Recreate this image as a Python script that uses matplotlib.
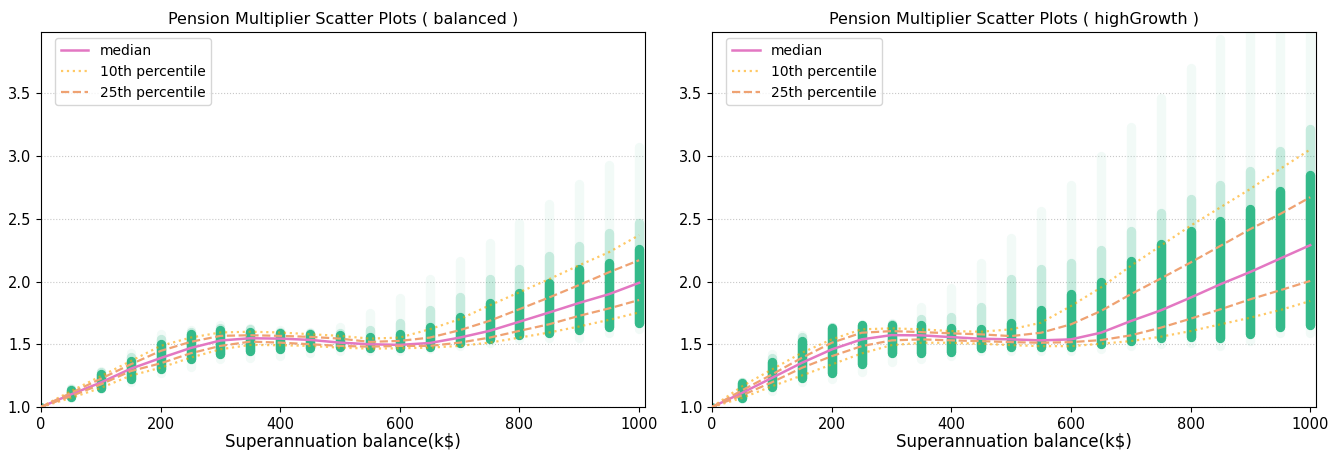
import matplotlib
matplotlib.use("Agg")

import numpy as np
import matplotlib.pyplot as plt

plt.rcParams.update({
    "font.family": "DejaVu Sans",
    "font.size": 10,
    "xtick.labelsize": 10.5,
    "ytick.labelsize": 10.5,
})

balance = [0, 50, 100, 150, 200, 250, 300, 350, 400, 450, 500,
           550, 600, 650, 700, 750, 800, 850, 900, 950, 1000]

# quantile curves, per strategy
balanced = {
    "p50": [1.00, 1.10, 1.195, 1.305, 1.39, 1.47, 1.53, 1.548, 1.545, 1.535, 1.513,
            1.50, 1.495, 1.51, 1.553, 1.607, 1.68, 1.754, 1.83, 1.90, 1.99],
    "p10": [1.00, 1.072, 1.152, 1.25, 1.313, 1.393, 1.46, 1.495, 1.492, 1.487, 1.473,
            1.465, 1.468, 1.473, 1.487, 1.513, 1.553, 1.594, 1.642, 1.695, 1.754],
    "p25": [1.00, 1.086, 1.18, 1.286, 1.348, 1.428, 1.487, 1.521, 1.513, 1.50, 1.487,
            1.481, 1.487, 1.487, 1.513, 1.553, 1.607, 1.66, 1.727, 1.786, 1.853],
    "p75": [1.00, 1.112, 1.225, 1.34, 1.447, 1.519, 1.567, 1.572, 1.567, 1.559, 1.545,
            1.519, 1.527, 1.553, 1.612, 1.687, 1.78, 1.874, 1.973, 2.075, 2.17],
    "p90": [1.00, 1.126, 1.246, 1.366, 1.487, 1.553, 1.594, 1.60, 1.594, 1.58, 1.567,
            1.545, 1.553, 1.62, 1.70, 1.81, 1.915, 2.02, 2.13, 2.235, 2.37],
}
high_growth = {
    "p50": [1.00, 1.112, 1.232, 1.352, 1.459, 1.539, 1.573, 1.571, 1.557, 1.544, 1.539,
            1.531, 1.539, 1.592, 1.685, 1.77, 1.872, 1.979, 2.077, 2.184, 2.29],
    "p10": [1.00, 1.072, 1.165, 1.251, 1.339, 1.427, 1.493, 1.512, 1.512, 1.504, 1.493,
            1.485, 1.485, 1.504, 1.525, 1.56, 1.605, 1.659, 1.712, 1.773, 1.845],
    "p25": [1.00, 1.093, 1.197, 1.312, 1.405, 1.485, 1.531, 1.539, 1.531, 1.525, 1.517,
            1.512, 1.517, 1.533, 1.571, 1.632, 1.704, 1.779, 1.859, 1.931, 2.005],
    "p75": [1.00, 1.133, 1.259, 1.392, 1.512, 1.592, 1.605, 1.597, 1.587, 1.579, 1.565,
            1.592, 1.659, 1.765, 1.899, 2.024, 2.152, 2.285, 2.419, 2.539, 2.672],
    "p90": [1.00, 1.165, 1.299, 1.432, 1.539, 1.619, 1.627, 1.619, 1.605, 1.60, 1.619,
            1.672, 1.805, 1.952, 2.125, 2.285, 2.445, 2.592, 2.739, 2.899, 3.053],
}

# spread of the simulated points in each column: faint bottom, dense bottom,
# dense top, medium top, faint top
balanced_cols = {
    "lo":      [1.00, 1.07, 1.14, 1.20, 1.27, 1.32, 1.38, 1.39, 1.41, 1.43, 1.45,
                1.45, 1.45, 1.46, 1.49, 1.51, 1.54, 1.55, 1.55, 1.59, 1.62],
    "core_lo": [1.00, 1.08, 1.15, 1.22, 1.30, 1.38, 1.42, 1.45, 1.46, 1.47, 1.48,
                1.47, 1.47, 1.48, 1.51, 1.54, 1.57, 1.59, 1.61, 1.64, 1.67],
    "core_hi": [1.00, 1.135, 1.26, 1.37, 1.50, 1.58, 1.61, 1.60, 1.59, 1.58, 1.57,
                1.56, 1.58, 1.64, 1.72, 1.83, 1.91, 1.99, 2.10, 2.15, 2.26],
    "mid_hi":  [1.00, 1.14, 1.28, 1.40, 1.54, 1.60, 1.63, 1.62, 1.60, 1.59, 1.59,
                1.61, 1.67, 1.77, 1.88, 2.02, 2.10, 2.20, 2.28, 2.39, 2.47],
    "hi":      [1.00, 1.15, 1.29, 1.43, 1.58, 1.61, 1.65, 1.63, 1.61, 1.60, 1.64,
                1.75, 1.87, 2.02, 2.16, 2.31, 2.47, 2.62, 2.78, 2.93, 3.07],
}
high_growth_cols = {
    "lo":      [1.00, 1.06, 1.13, 1.20, 1.22, 1.28, 1.36, 1.38, 1.41, 1.45, 1.45,
                1.45, 1.45, 1.46, 1.49, 1.50, 1.51, 1.49, 1.53, 1.59, 1.59],
    "core_lo": [1.00, 1.07, 1.16, 1.23, 1.27, 1.34, 1.43, 1.43, 1.44, 1.47, 1.48,
                1.48, 1.48, 1.50, 1.53, 1.55, 1.56, 1.55, 1.58, 1.64, 1.65],
    "core_hi": [1.00, 1.19, 1.36, 1.53, 1.63, 1.65, 1.65, 1.65, 1.63, 1.62, 1.67,
                1.77, 1.90, 2.00, 2.16, 2.30, 2.40, 2.48, 2.58, 2.72, 2.85],
    "mid_hi":  [1.00, 1.20, 1.39, 1.56, 1.64, 1.65, 1.66, 1.70, 1.72, 1.80, 2.02,
                2.10, 2.15, 2.25, 2.40, 2.55, 2.66, 2.77, 2.88, 3.04, 3.22],
    "hi":      [1.00, 1.20, 1.42, 1.57, 1.64, 1.66, 1.67, 1.80, 1.95, 2.15, 2.35,
                2.56, 2.77, 3.00, 3.23, 3.46, 3.70, 3.93, 4.10, 4.20, 4.30],
}

panels = [("balanced", balanced, balanced_cols),
          ("highGrowth", high_growth, high_growth_cols)]

GREEN = "#2cb886"
PINK = "#e377c2"
DOT = "orange"
DASH = "#efa272"
COL_W = 6.8

fig, axes = plt.subplots(1, 2, figsize=(13.41, 4.5), dpi=100)
fig.subplots_adjust(left=0.0306, right=0.9815, bottom=0.0956, top=0.929, wspace=0.111)

for ax, (name, q, cols) in zip(axes, panels):
    # point columns, drawn as stacked round-capped bars of decreasing transparency
    ax.vlines(balance, cols["lo"], cols["hi"], color=GREEN, alpha=0.06,
              linewidth=COL_W, capstyle="round", zorder=1)
    ax.vlines(balance, cols["core_lo"], cols["mid_hi"], color=GREEN, alpha=0.22,
              linewidth=COL_W, capstyle="round", zorder=1)
    ax.vlines(balance, cols["core_lo"], cols["core_hi"], color=GREEN, alpha=0.95,
              linewidth=COL_W, capstyle="round", zorder=1)
    # the starting point, a single value at zero balance
    ax.scatter(balance[:1], cols["lo"][:1], s=40, color=GREEN, alpha=0.9,
               linewidths=0, zorder=1, clip_on=True)

    ax.plot(balance, q["p50"], color=PINK, lw=1.8, label="median", zorder=3)
    ax.plot(balance, q["p10"], color=DOT, alpha=0.6, lw=1.6, ls=":",
            label="10th percentile", zorder=3)
    ax.plot(balance, q["p90"], color=DOT, alpha=0.6, lw=1.6, ls=":", zorder=3)
    ax.plot(balance, q["p25"], color=DASH, lw=1.6, ls="--",
            label="25th percentile", zorder=3)
    ax.plot(balance, q["p75"], color=DASH, lw=1.6, ls="--", zorder=3)

    ax.set_xlim(0, 1010)
    ax.set_ylim(1.0, 3.99)
    ax.set_yticks([1.0, 1.5, 2.0, 2.5, 3.0, 3.5])
    ax.set_xticks([0, 200, 400, 600, 800, 1000])
    ax.grid(axis="y", ls=":", color="#c8c8c8", lw=0.8)
    ax.set_axisbelow(True)
    ax.set_title(f"Pension Multiplier Scatter Plots ( {name} )", fontsize=11.5)
    ax.set_xlabel("Superannuation balance(k$)", fontsize=12, labelpad=1)
    ax.legend(loc="upper left", bbox_to_anchor=(0.013, 1.0), borderaxespad=0.45,
              fontsize=10)

fig.savefig("out.png", dpi=100)
